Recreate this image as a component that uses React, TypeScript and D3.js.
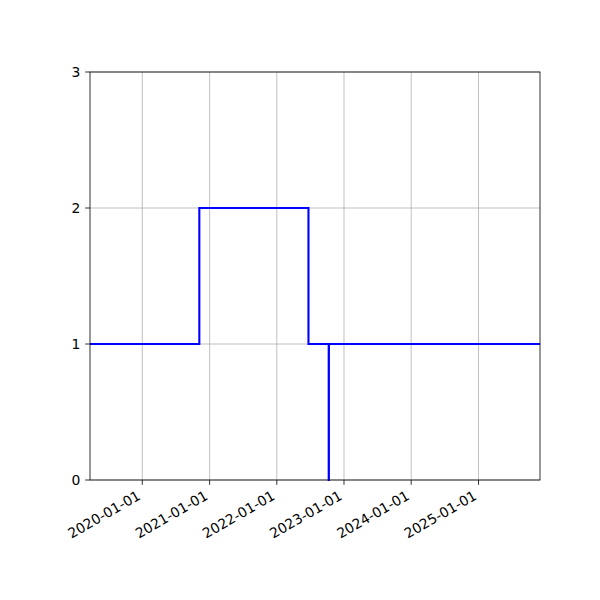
import React from "react";
import * as d3 from "d3";

const dates = ["2019-03-23", "2020-11-06", "2022-06-22", "2022-10-10", "2022-10-11", "2025-12-01"];
const values = [1, 2, 1, 0, 1, 1];
const xDomain = ["2019-03-23", "2025-12-01"];
const xTickLabels = ["2020-01-01", "2021-01-01", "2022-01-01", "2023-01-01", "2024-01-01", "2025-01-01"];
const yTicks = [0, 1, 2, 3];

const W = 600, H = 600;
const L = 90, R = 540, T = 72, B = 480;
const FONT = "DejaVu Sans, sans-serif";
const FS = 13.9;

export default function App() {
  const parse = d3.utcParse("%Y-%m-%d");
  const x = d3.scaleUtc().domain(xDomain.map((d) => parse(d) as Date)).range([L, R]);
  const y = d3.scaleLinear().domain([0, 3]).range([B, T]);
  const pts = dates.map((d, i) => [x(parse(d) as Date), y(values[i])] as [number, number]);
  const line = d3.line().curve(d3.curveStepAfter)(pts) || "";
  const tl = 4.86;
  return (
    <svg width={W} height={H} style={{ position: "absolute", left: 0, top: 0, background: "#fff" }}>
      <rect x={0} y={0} width={W} height={H} fill="#fff" />
      {xTickLabels.map((t) => {
        const xx = x(parse(t) as Date);
        return <line key={"gx" + t} x1={xx} x2={xx} y1={T} y2={B} stroke="#b0b0b0" strokeWidth={0.8} />;
      })}
      {yTicks.map((v) => (
        <line key={"gy" + v} x1={L} x2={R} y1={y(v)} y2={y(v)} stroke="#b0b0b0" strokeWidth={0.8} />
      ))}
      <defs>
        <clipPath id="clip">
          <rect x={L} y={T - 2} width={R - L} height={B - T + 4} />
        </clipPath>
      </defs>
      <path d={line} fill="none" stroke="#0000ff" strokeWidth={2.1} clipPath="url(#clip)" />
      <rect x={L} y={T} width={R - L} height={B - T} fill="none" stroke="#000" strokeWidth={0.8} />
      {yTicks.map((v) => (
        <g key={"yt" + v}>
          <line x1={L - tl} x2={L} y1={y(v)} y2={y(v)} stroke="#000" strokeWidth={0.8} />
          <text x={L - tl - 4.86} y={y(v)} textAnchor="end" dominantBaseline="central" fontFamily={FONT} fontSize={FS}>
            {v}
          </text>
        </g>
      ))}
      {xTickLabels.map((t) => {
        const xx = x(parse(t) as Date);
        const ax = xx - 0.8;
        const ay = B + 18.5;
        return (
          <g key={"xt" + t}>
            <line x1={xx} x2={xx} y1={B} y2={B + tl} stroke="#000" strokeWidth={0.8} />
            <text
              x={ax}
              y={ay}
              textAnchor="end"
              transform={`rotate(-30 ${ax} ${ay})`}
              fontFamily={FONT}
              fontSize={FS}
            >
              {t}
            </text>
          </g>
        );
      })}
    </svg>
  );
}
